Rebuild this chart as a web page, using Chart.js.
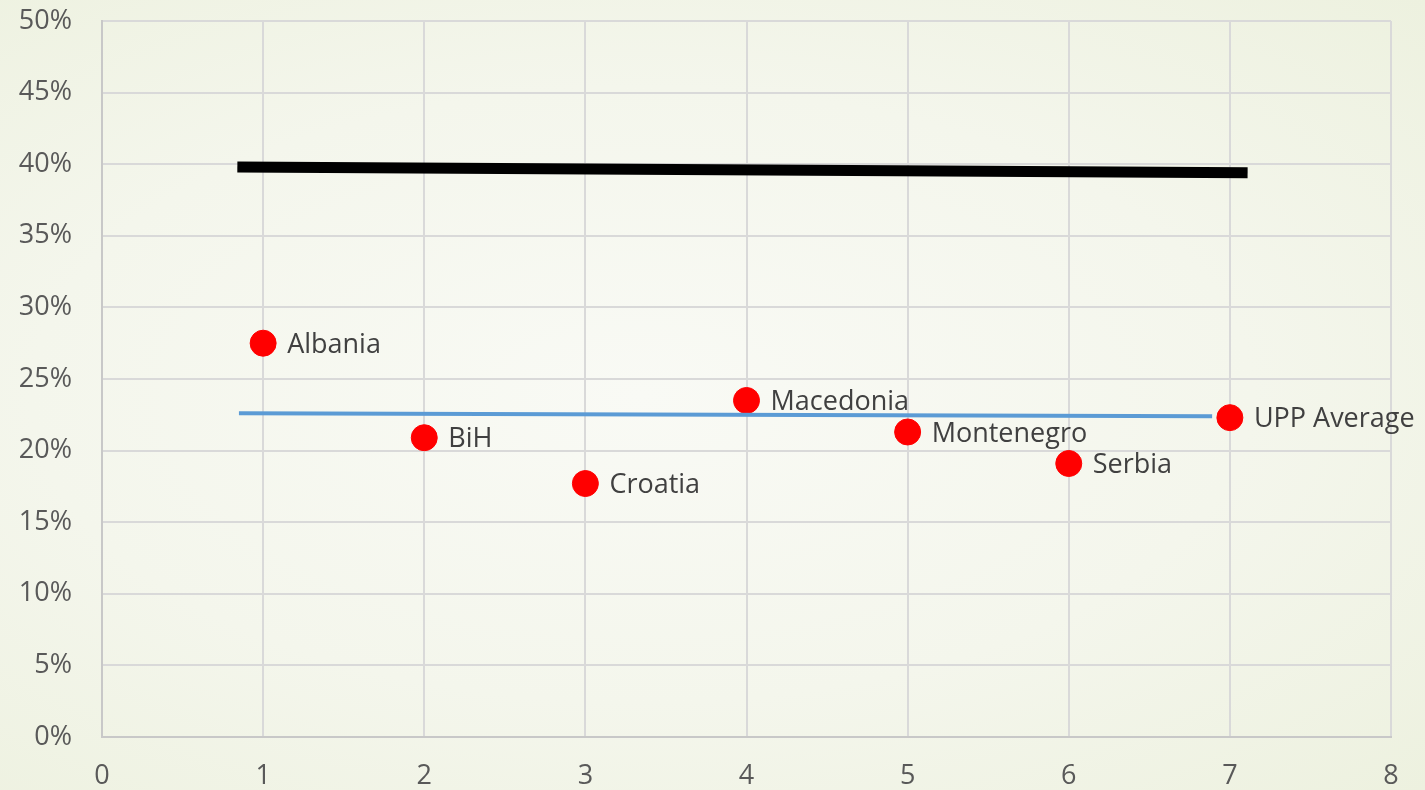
<!DOCTYPE html>
<html>
<head>
<meta charset="utf-8">
<script src="https://cdn.jsdelivr.net/npm/chart.js@4"></script>
<style>
	html, body { margin: 0; padding: 0; }
	body {
		width: 1425px; height: 790px; overflow: hidden;
		background: radial-gradient(ellipse at 45% 50%, #f9faf5 0%, #f4f6ec 55%, #edf1df 100%);
	}
</style>
</head>
<body>
<canvas id="chart_share" width="1425" height="790"></canvas>
<script>
// Countries and their share (%)
const countries = ['Albania', 'BiH', 'Croatia', 'Macedonia', 'Montenegro', 'Serbia', 'UPP Average'];
const xPos = [1, 2, 3, 4, 5, 6, 7];
const shares = [27.5, 20.9, 17.7, 23.5, 21.3, 19.1, 22.3];

// reference lines (x, y pairs at both ends)
const blackLineX = [0.84, 7.11];
const blackLineY = [39.8, 39.4];
const blueLineX = [0.85, 6.89];
const blueLineY = [22.6, 22.4];

const xTicks = [0, 1, 2, 3, 4, 5, 6, 7, 8];
const yTicks = [0, 5, 10, 15, 20, 25, 30, 35, 40, 45, 50];

const fontFamily = "'Open Sans', 'DejaVu Sans', sans-serif";

//Labels next to the red dots
const pointLabels = {
	id: 'pointLabels',
	afterDatasetsDraw(chart) {
		const meta = chart.getDatasetMeta(2);
		const ctx = chart.ctx;
		ctx.save();
		ctx.font = "27px " + fontFamily;
		ctx.fillStyle = '#404040';
		ctx.textBaseline = 'middle';
		ctx.textAlign = 'left';
		meta.data.forEach(function(pt, i) {
			ctx.fillText(countries[i], pt.x + 24, pt.y + 2);
		});
		ctx.restore();
	}
};

const chart_html = document.getElementById('chart_share');
const chart_share = new Chart(chart_html, {
	type: 'scatter',
	data: {
		datasets: [
			{
				label: 'Upper line',
				data: blackLineX.map((x, i) => ({x: x, y: blackLineY[i]})),
				showLine: true,
				borderColor: '#000000',
				borderWidth: 11,
				pointRadius: 0,
				borderCapStyle: 'butt'
			},
			{
				label: 'Average line',
				data: blueLineX.map((x, i) => ({x: x, y: blueLineY[i]})),
				showLine: true,
				borderColor: '#5b9bd5',
				borderWidth: 4,
				pointRadius: 0,
				borderCapStyle: 'butt'
			},
			{
				label: 'Share',
				data: xPos.map((x, i) => ({x: x, y: shares[i]})),
				backgroundColor: '#ff0000',
				borderColor: '#ff0000',
				pointRadius: 13,
				pointHoverRadius: 13
			}
		]
	},
	options: {
		responsive: false,
		animation: false,
		layout: { padding: { top: 21, right: 34, left: 0, bottom: 0 } },
		plugins: {
			legend: { display: false },
			tooltip: { enabled: false }
		},
		scales: {
			x: {
				type: 'linear',
				min: 0,
				max: 8,
				afterBuildTicks: (axis) => { axis.ticks = xTicks.map(v => ({value: v})); },
				afterFit: (axis) => {
					axis.height = 53;
					axis.paddingLeft = 0;
					axis.paddingRight = 0;
				},
				grid: { color: '#d9d9d9', lineWidth: 2, drawTicks: false },
				border: { color: '#c8c8c8', width: 2 },
				ticks: {
					color: '#595959',
					padding: 23,
					font: { family: fontFamily, size: 27 }
				}
			},
			y: {
				min: 0,
				max: 50,
				afterBuildTicks: (axis) => { axis.ticks = yTicks.map(v => ({value: v})); },
				afterFit: (axis) => {
					axis.width = 102;
					axis.paddingTop = 0;
					axis.paddingBottom = 0;
				},
				grid: { color: '#d9d9d9', lineWidth: 2, drawTicks: false },
				border: { color: '#c8c8c8', width: 2 },
				ticks: {
					color: '#595959',
					padding: 30,
					font: { family: fontFamily, size: 27 },
					callback: (v) => v + '%'
				}
			}
		}
	},
	plugins: [pointLabels]
});
</script>
</body>
</html>
